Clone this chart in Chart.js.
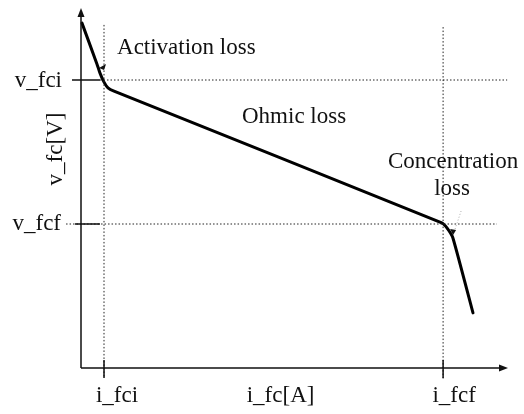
<!DOCTYPE html>
<html>
<head>
<meta charset="utf-8">
<script src="https://cdn.jsdelivr.net/npm/chart.js@4"></script>
<style>
  html, body { margin: 0; padding: 0; background: #fff; }
  #wrap { width: 524px; height: 414px; position: relative; }
</style>
</head>
<body>
<div id="wrap"><canvas id="c" width="524" height="414"></canvas></div>
<script>
// ---- Data (arbitrary units: current 0..100, voltage 0..100) ----
const curveCurrent = [0.23, 3.75, 4.45, 5.39, 6.32, 7.73, 84.5, 85.7, 87.1, 91.8];
const curveVoltage = [95.8, 84.4, 81.9, 79.4, 77.8, 76.9, 40.3, 38.9, 36.1, 15.3];

const iFci = 5.39, iFcf = 84.8;   // current markers
const vFci = 80.0, vFcf = 40.0;   // voltage markers

const xTickValues = [iFci, iFcf];
const xTickLabels = ['i_fci', 'i_fcf'];
const yTickValues = [vFci, vFcf];
const yTickLabels = ['v_fci', 'v_fcf'];

// guide extents (data units)
const vGuideTop = [95.3, 94.7];      // top of vertical dotted guides (i_fci, i_fcf)
const vGuideBottom = [-2.8, -3.3];   // bottom of vertical dotted guides
const hGuideStart = [4.45, -3.5];    // start of horizontal dotted guides (v_fci, v_fcf)
const hGuideEnd = [99.8, 97.4];      // end of horizontal dotted guides

const xTitle = 'i_fc[A]';
const yTitle = 'v_fc[V]';
const regionLabels = ['Activation loss', 'Ohmic loss', 'Concentration', 'loss'];

// ---- Build datasets ----
const curve = curveCurrent.map((x, i) => ({ x, y: curveVoltage[i] }));
const dotted = { borderColor: '#222', borderWidth: 1, borderDash: [1.5, 2], pointRadius: 0, fill: false, clip: false, showLine: true };
const guides = [];
xTickValues.forEach((xv, i) => guides.push(Object.assign({ data: [{ x: xv, y: vGuideTop[i] }, { x: xv, y: vGuideBottom[i] }] }, dotted)));
yTickValues.forEach((yv, i) => guides.push(Object.assign({ data: [{ x: hGuideStart[i], y: yv }, { x: hGuideEnd[i], y: yv }] }, dotted)));

const FONT = '23px "Liberation Serif", "Times New Roman", serif';

const drawPlugin = {
  id: 'schematic',
  afterDatasetsDraw(chart) {
    const ctx = chart.ctx;
    const xs = chart.scales.x, ys = chart.scales.y;
    const x0 = xs.getPixelForValue(0), y0 = ys.getPixelForValue(0);
    const xEnd = xs.getPixelForValue(xs.max), yTop = ys.getPixelForValue(ys.max);
    ctx.save();
    ctx.strokeStyle = '#111';
    ctx.fillStyle = '#111';
    ctx.lineWidth = 1.5;
    // axes
    ctx.beginPath();
    ctx.moveTo(x0, y0); ctx.lineTo(x0, yTop + 4);
    ctx.moveTo(x0, y0); ctx.lineTo(xEnd - 4, y0);
    ctx.stroke();
    // arrow heads
    ctx.beginPath();
    ctx.moveTo(x0, yTop); ctx.lineTo(x0 - 3.5, yTop + 9); ctx.lineTo(x0 + 3.5, yTop + 9); ctx.closePath();
    ctx.fill();
    ctx.beginPath();
    ctx.moveTo(xEnd, y0); ctx.lineTo(xEnd - 9, y0 - 3.5); ctx.lineTo(xEnd - 9, y0 + 3.5); ctx.closePath();
    ctx.fill();
    // tick marks
    ctx.lineWidth = 1.5;
    ctx.beginPath();
    yTickValues.forEach((v, i) => {
      const py = ys.getPixelForValue(v);
      ctx.moveTo(x0 - (i === 0 ? 9 : 6), py); ctx.lineTo(x0 + 19, py);
    });
    xTickValues.forEach(v => {
      const px = xs.getPixelForValue(v);
      ctx.moveTo(px, y0 - 8); ctx.lineTo(px, y0 + 10);
    });
    ctx.stroke();

    // small annotation arrows
    const a1x = xs.getPixelForValue(iFci) - 2, a1y = ys.getPixelForValue(vFci) - 13;
    ctx.beginPath();
    ctx.moveTo(a1x - 3, a1y + 1); ctx.lineTo(a1x + 4, a1y - 3); ctx.lineTo(a1x + 2, a1y + 3); ctx.closePath();
    ctx.fill();
    const a2x = xs.getPixelForValue(iFcf) + 10, a2y = ys.getPixelForValue(vFcf) + 11;
    ctx.lineWidth = 0.8;
    ctx.strokeStyle = '#999';
    ctx.setLineDash([1, 2]);
    ctx.beginPath(); ctx.moveTo(a2x + 8, a2y - 24); ctx.lineTo(a2x + 1, a2y - 3); ctx.stroke();
    ctx.setLineDash([]);
    ctx.beginPath();
    ctx.moveTo(a2x, a2y); ctx.lineTo(a2x - 3, a2y - 6); ctx.lineTo(a2x + 3, a2y - 5); ctx.closePath();
    ctx.fill();

    // text
    ctx.fillStyle = '#111';
    ctx.font = FONT;
    ctx.textBaseline = 'alphabetic';
    ctx.textAlign = 'right';
    ctx.fillText(yTickLabels[0], x0 - 19, ys.getPixelForValue(vFci) + 7);
    ctx.fillText(yTickLabels[1], x0 - 20, ys.getPixelForValue(vFcf) + 6);
    ctx.textAlign = 'center';
    ctx.fillText(xTickLabels[0], xs.getPixelForValue(iFci) + 13, y0 + 34);
    ctx.fillText(xTickLabels[1], xs.getPixelForValue(iFcf) + 11, y0 + 34);
    ctx.fillText(xTitle, (xs.getPixelForValue(iFci) + xs.getPixelForValue(iFcf)) / 2 + 7, y0 + 34);
    // rotated y title
    ctx.save();
    ctx.translate(x0 - 19, (ys.getPixelForValue(vFci) + ys.getPixelForValue(vFcf)) / 2 - 3);
    ctx.rotate(-Math.PI / 2);
    ctx.textAlign = 'center';
    ctx.fillText(yTitle, 0, 0);
    ctx.restore();
    // region labels
    ctx.textAlign = 'left';
    ctx.fillText(regionLabels[0], xs.getPixelForValue(iFci) + 13, ys.getPixelForValue(vFci) - 26);
    ctx.fillText(regionLabels[1], 242, ys.getPixelForValue(vFci) + 43);
    ctx.textAlign = 'center';
    ctx.fillText(regionLabels[2], xs.getPixelForValue(iFcf) + 10, ys.getPixelForValue(vFcf) - 56);
    ctx.fillText(regionLabels[3], xs.getPixelForValue(iFcf) + 9, ys.getPixelForValue(vFcf) - 29);
    ctx.restore();
  }
};

new Chart(document.getElementById('c'), {
  type: 'scatter',
  data: {
    datasets: [
      ...guides,
      { data: curve, showLine: true, borderColor: '#000', borderWidth: 3, pointRadius: 0, tension: 0.15, fill: false, clip: false, borderJoinStyle: 'round', borderCapStyle: 'round' }
    ]
  },
  options: {
    responsive: false,
    animation: false,
    devicePixelRatio: 1,
    layout: { padding: { left: 81, top: 8, right: 16, bottom: 46 } },
    plugins: { legend: { display: false }, tooltip: { enabled: false } },
    scales: {
      x: { type: 'linear', min: 0, max: 100, display: false },
      y: { type: 'linear', min: 0, max: 100, display: false }
    }
  },
  plugins: [drawPlugin]
});
</script>
</body>
</html>
